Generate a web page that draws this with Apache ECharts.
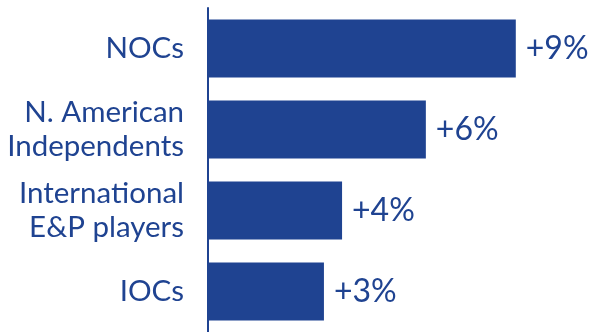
<!DOCTYPE html>
<html>
<head>
<meta charset="utf-8">
<script src="https://cdn.jsdelivr.net/npm/echarts@6/dist/echarts.min.js"></script>
<style>
  html, body { margin: 0; padding: 0; background: #fff; }
  #chart { width: 591px; height: 332px; }
</style>
</head>
<body>
<div id="chart"></div>
<script>
// categories, top to bottom
const categories = ['NOCs', 'N. American\nIndependents', 'International\nE&P players', 'IOCs'];
// bar lengths (percent growth)
const growthValues = [9.0, 6.37, 3.92, 3.39];
// labels printed at the end of the bars
const growthLabels = ['+9%', '+6%', '+4%', '+3%'];

const blue = '#1F4391';

const myChart = echarts.init(document.getElementById('chart'), null, {
  renderer: 'canvas',
});

myChart.setOption({
  animation: false,
  grid: {
    left: 208,
    right: 41,
    top: 8,
    bottom: -3,
  },
  xAxis: {
    type: 'value',
    min: 0,
    max: 10,
    show: false,
  },
  yAxis: {
    type: 'category',
    data: categories,
    inverse: true,
    axisLine: { show: true, lineStyle: { color: blue, width: 2 } },
    axisTick: { show: false },
    axisLabel: {
      color: blue,
      fontFamily: 'Lato',
      fontSize: 29.5,
      lineHeight: 34,
      margin: 24,
      align: 'right',
    },
  },
  series: [
    {
      type: 'bar',
      data: growthValues,
      barWidth: 58,
      itemStyle: { color: blue },
      label: {
        show: true,
        position: 'right',
        distance: 10,
        color: blue,
        fontFamily: 'Lato',
        fontSize: 32,
        formatter: (p) => growthLabels[p.dataIndex],
      },
    },
  ],
});
</script>
</body>
</html>
